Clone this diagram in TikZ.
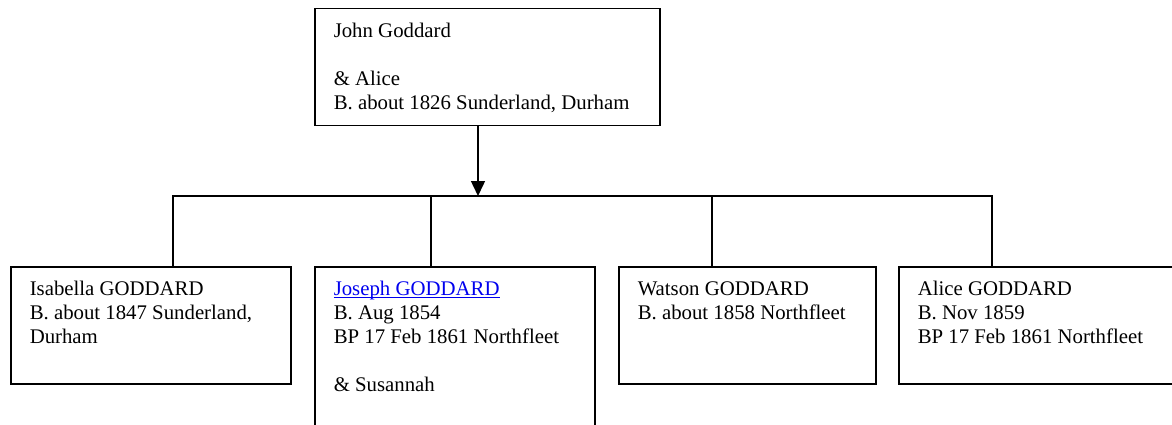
\documentclass[tikz,border=0pt]{standalone}
\usepackage{fontspec}
\setmainfont{Liberation Serif}
\usepackage{tikz}
\usetikzlibrary{arrows.meta, calc}
\usepackage{xcolor}
\definecolor{LinkBlue}{RGB}{0, 0, 238}

\newcommand{\boxtext}[3]{\parbox[t][#2][t]{#1}{\strut#3}}
\newcommand{\linktext}[1]{\textcolor{LinkBlue}{\setbox0\hbox{#1}\rlap{\rule[-2.5pt]{\wd0}{1.3pt}}\box0}}

\begin{document}
\begin{tikzpicture}[x=1pt, y=-1pt,
    personbox/.style={draw, line width=1.5pt, anchor=north west, inner xsep=19pt, inner ysep=12.2pt, font=\fontsize{20.8}{24}\selectfont},
    bus/.style={line width=1.5pt}]
    \useasboundingbox (0,0) rectangle (1172,425);
    \clip (0,0) rectangle (1172,425);

    \node[personbox] (john) at (314,8) {\boxtext{307pt}{92.6pt}{John Goddard\\[24pt]\& Alice\\B. about 1826 Sunderland, Durham}};

    \node[personbox] (isabella) at (10,266) {\boxtext{242pt}{92.6pt}{Isabella GODDARD\\B. about 1847 Sunderland,\\Durham}};
    \node[personbox] (joseph) at (314,266) {\boxtext{242pt}{145.6pt}{\linktext{Joseph GODDARD}\\B. Aug 1854\\BP 17 Feb 1861 Northfleet\\[24pt]\& Susannah}};
    \node[personbox] (watson) at (618,266) {\boxtext{219pt}{92.6pt}{Watson GODDARD\\B. about 1858 Northfleet}};
    \node[personbox] (alice) at (898,266) {\boxtext{252pt}{92.6pt}{Alice GODDARD\\B. Nov 1859\\BP 17 Feb 1861 Northfleet}};

    \coordinate (hub) at (478,196);
    \coordinate (b1) at (173,196);
    \coordinate (b2) at (431,196);
    \coordinate (b3) at (712,196);
    \coordinate (b4) at (992,196);

    \draw[bus, -{Triangle[length=15pt, width=14pt]}] (john.south -| hub) -- (hub);
    \draw[bus] (isabella.north -| b1) -- (b1) -- (b4) -- (alice.north -| b4);
    \draw[bus] (b2) -- (joseph.north -| b2);
    \draw[bus] (b3) -- (watson.north -| b3);
  \end{tikzpicture}
\end{document}
